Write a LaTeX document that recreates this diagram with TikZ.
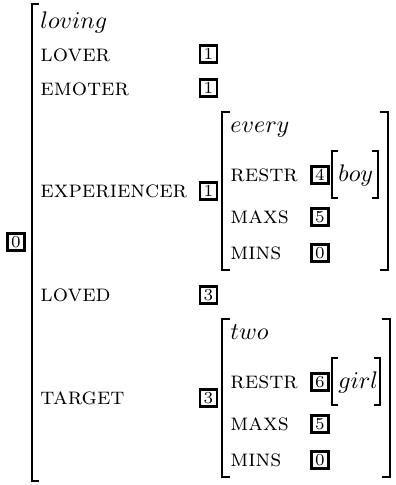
\documentclass[tikz,border=0pt]{standalone}
\begin{document}
\begin{tikzpicture}[x=0.4167pt, y=-0.4167pt,
  attr/.style = {anchor=base west, inner sep=0pt, font=\scshape},
  word/.style = {anchor=base west, inner sep=0pt},
  tag/.style = {draw, line width=0.9pt, inner sep=0pt, minimum size=7.1pt, font=\scriptsize},
  brack/.style = {line width=0.85pt},
  thinbrack/.style = {line width=0.55pt}]
\useasboundingbox (0,0) rectangle (396,485);
% outer structure
\node[tag] (t0) at (16,242) {0};
\draw[brack] (39,4) -| (32,481) -- (39,481);
\node[word] (loving) at (40,28) {$loving$};
\node[attr] (lover) at (40,61) {lover};
\node[tag] (t1a) at (208.5,54) {1};
\node[attr] (emoter) at (40,95) {emoter};
\node[tag] (t1b) at (208.5,88) {1};
\node[attr] (exper) at (40,197) {experiencer};
\node[tag] (t1c) at (208.5,191) {1};
\node[attr] (loved) at (40,301) {loved};
\node[tag] (t3a) at (208.5,295) {3};
\node[attr] (target) at (40,404) {target};
\node[tag] (t3b) at (208.5,398) {3};
% the two quantifier structures
\foreach \q/\w/\n/\y/\r/\s in {every/boy/4/112/388/378, two/girl/6/319/390/380} {
  \draw[brack] (230,\y) -| (222,\y+158) -- (230,\y+158);
  \draw[brack] (\r-8,\y) -| (\r,\y+158) -- (\r-8,\y+158);
  \node[word] (\q) at (230,\y+20) {$\q$};
  \node[attr] (restr-\q) at (230,\y+69) {restr};
  \node[tag] (tag-\q) at (320,\y+63) {\n};
  \draw[thinbrack] (338,\y+39) -| (332,\y+86) -- (338,\y+86);
  \node[word] (\w) at (338,\y+69) {$\w$};
  \draw[thinbrack] (\s-6,\y+39) -| (\s,\y+86) -- (\s-6,\y+86);
  \node[attr] (maxs-\q) at (230,\y+111) {maxs};
  \node[tag] (five-\q) at (320,\y+105) {5};
  \node[attr] (mins-\q) at (230,\y+147) {mins};
  \node[tag] (zero-\q) at (320,\y+141) {0};
}
\end{tikzpicture}
\end{document}
